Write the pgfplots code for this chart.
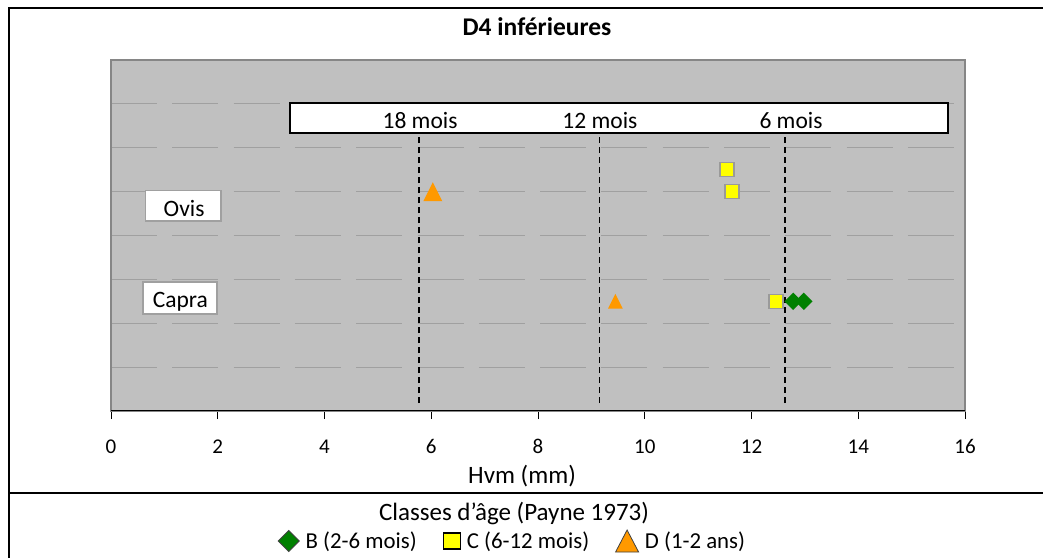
\documentclass[border=0pt]{standalone}
\usepackage{fontspec}
\setmainfont{Carlito}
\usepackage{pgfplots}
\pgfplotsset{compat=1.18}
\definecolor{plotbg}{HTML}{C0C0C0}
\definecolor{gridc}{HTML}{A0A0A0}
\definecolor{frameg}{HTML}{868686}
\definecolor{xlgreen}{HTML}{008000}
\definecolor{xlyellow}{HTML}{FFFF00}
\definecolor{xlorange}{HTML}{FF9900}
\definecolor{sqborder}{HTML}{9A9A9A}
\pgfdeclareplotmark{xltri}{%
 \pgfpathmoveto{\pgfqpoint{0pt}{\pgfplotmarksize}}%
 \pgfpathlineto{\pgfqpoint{\pgfplotmarksize}{-\pgfplotmarksize}}%
 \pgfpathlineto{\pgfqpoint{-\pgfplotmarksize}{-\pgfplotmarksize}}%
 \pgfpathclose\pgfusepathqfill}
\pgfdeclareplotmark{xldia}{%
 \pgfpathmoveto{\pgfqpoint{0pt}{\pgfplotmarksize}}%
 \pgfpathlineto{\pgfqpoint{\pgfplotmarksize}{0pt}}%
 \pgfpathlineto{\pgfqpoint{0pt}{-\pgfplotmarksize}}%
 \pgfpathlineto{\pgfqpoint{-\pgfplotmarksize}{0pt}}%
 \pgfpathclose\pgfusepathqfill}
\newcommand{\fs}{\fontsize{23.5bp}{27bp}\selectfont}
\newcommand{\fl}{\fontsize{25bp}{29bp}\selectfont}
\newcommand{\fe}{\fontsize{22.8bp}{27bp}\selectfont}
\begin{document}
\begin{tikzpicture}
\useasboundingbox (0bp,0bp) rectangle (1043bp,558bp);
\fill[white] (0bp,0bp) rectangle (1043bp,558bp);
\draw[black, line width=2.2bp] (9bp,0bp) -- (9bp,550bp) -- (1043bp,550bp);
\draw[black, line width=2.2bp] (9bp,65bp) -- (1043bp,65bp);
\node[anchor=base, font=\fontsize{25.5bp}{29bp}\selectfont\bfseries] at (537bp,522bp) {D4 inférieures};
\node[anchor=base, font=\fl] at (514bp,38bp) {Classes d’âge (Payne 1973)};
\begin{axis}[
  at={(111bp,147bp)}, anchor=south west,
  scale only axis, width=854bp, height=351bp,
  xmin=0, xmax=16, ymin=0, ymax=8,
  xtick={0,2,...,16}, ytick={1,2,...,7}, yticklabels={},
  ytick style={draw=none},
  xtick style={black, line width=1bp},
  tick align=outside, major tick length=8bp, xtick pos=left,
  ymajorgrids, grid style={gridc, line width=1bp, dash pattern=on 46bp off 15.3bp},
  axis line style={frameg, line width=1.3bp},
  axis background/.style={fill=plotbg},
  ticklabel style={font=\fontsize{21bp}{24bp}\selectfont},
  /pgf/number format/assume math mode=true,
  xticklabel style={anchor=base, yshift=-34bp},
  xlabel={Hvm (mm)},
  xlabel style={at={(axis description cs:0.4813,0)}, anchor=base, yshift=-72bp, font=\fl},
  legend style={at={(axis description cs:0.4701,-0.3704)}, anchor=center, draw=none, fill=none,
    font=\fe, /tikz/every even column/.append style={column sep=24bp},
    /tikz/every odd column/.append style={column sep=4bp}},
  legend columns=3, legend cell align=left,
]
% white box
\draw[fill=white, draw=black, line width=2bp] (axis cs:3.35,6.33) rectangle (axis cs:15.68,7.02);
\node[anchor=base, font=\fs] at (axis cs:5.79,6.45) {18 mois};
\node[anchor=base, font=\fs] at (axis cs:9.16,6.45) {12 mois};
\node[anchor=base, font=\fs] at (axis cs:12.74,6.45) {6 mois};
% species labels
\draw[fill=white, draw=gridc, line width=1.5bp] (axis cs:0.65,4.33) rectangle (axis cs:2.06,5.03);
\node[anchor=base, font=\fs] at (axis cs:1.37,4.44) {Ovis};
\draw[fill=white, draw=gridc, line width=1.5bp] (axis cs:0.60,2.21) rectangle (axis cs:1.99,2.94);
\node[anchor=base, font=\fs] at (axis cs:1.30,2.36) {Capra};
% age limit lines
\addplot[forget plot, black, line width=1.7bp, dash pattern=on 6bp off 4bp] coordinates {(5.77,0.18) (5.77,6.33)};
\addplot[forget plot, black, line width=1.7bp, dash pattern=on 6bp off 4bp] coordinates {(9.15,0.18) (9.15,6.33)};
\addplot[forget plot, black, line width=1.7bp, dash pattern=on 6bp off 4bp] coordinates {(12.63,0.18) (12.63,6.33)};
% data
\addplot[only marks, mark=xldia, mark size=8.7bp, color=xlgreen,
  legend image code/.code={\draw[fill=xlgreen, draw=black!75, line width=0.8bp] (0bp,10.5bp) -- (10.5bp,0bp) -- (0bp,-10.5bp) -- (-10.5bp,0bp) -- cycle;}]
  coordinates {(12.78,2.5) (12.98,2.5)};
\addlegendentry{B (2-6 mois)}
\addplot[only marks, mark=square*, mark size=7bp, mark options={fill=xlyellow, draw=sqborder, line width=1.5bp},
  legend image code/.code={\draw[fill=xlyellow, draw=black, line width=1.2bp] (-8.5bp,-8bp) rectangle (8.5bp,8bp);}]
  coordinates {(11.54,5.5) (11.63,5.0) (12.46,2.5)};
\addlegendentry{C (6-12 mois)}
\addplot[only marks, mark=xltri, mark size=9.4bp, color=xlorange,
  legend image code/.code={\draw[fill=xlorange, draw=black!75, line width=0.8bp] (0bp,11bp) -- (11.5bp,-11bp) -- (-11.5bp,-11bp) -- cycle;}]
  coordinates {(6.03,5.0)};
\addlegendentry{D (1-2 ans)}
\addplot[forget plot, only marks, mark=xltri, mark size=7.4bp, color=xlorange]
  coordinates {(9.45,2.5)};
\draw[black, line width=1.5bp] (rel axis cs:0,0) -- (rel axis cs:1,0);
\end{axis}
\end{tikzpicture}
\end{document}
